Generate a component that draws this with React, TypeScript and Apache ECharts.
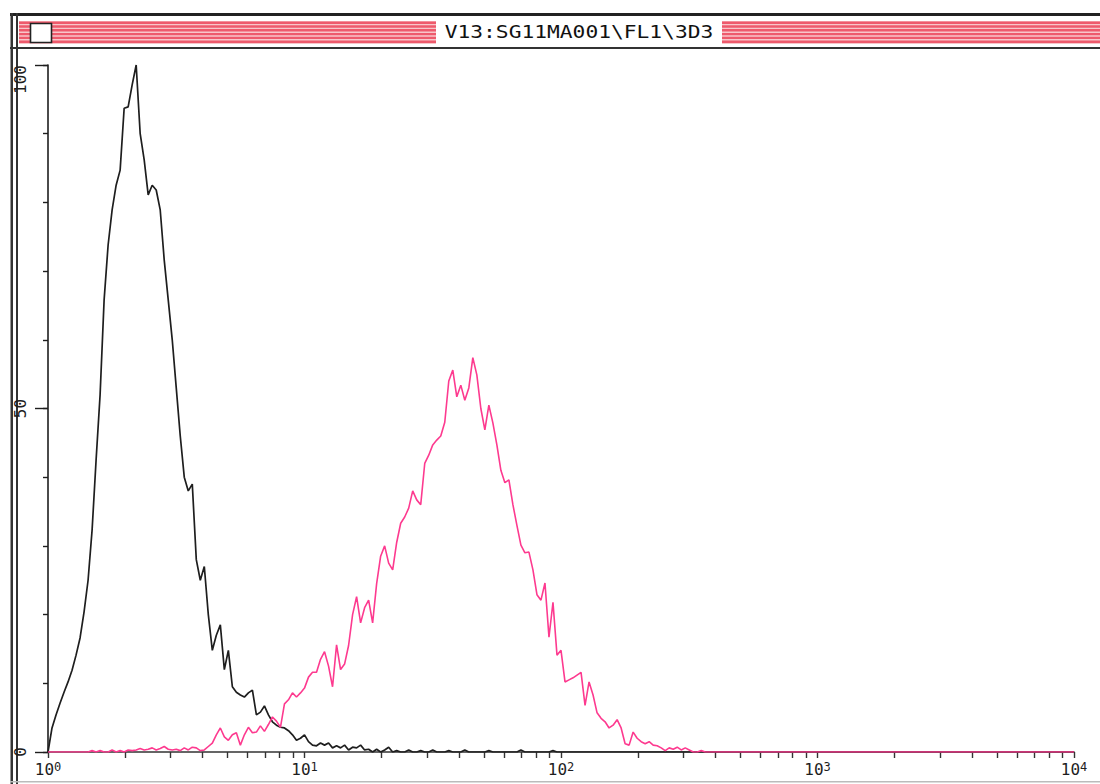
import React, { useEffect, useRef } from 'react';
import * as echarts from 'echarts';

const TITLE = 'V13:SG11MA001\\FL1\\3D3';
const CHANNELS = 256;
const CHANNELS_PER_DECADE = 64;
const DECADES = [0, 1, 2, 3, 4];
const DECADE_BASE = '10';
const MINOR_MULTIPLIERS = [2, 3, 4, 5, 6, 7, 8, 9];
const Y_MIN = 0;
const Y_MAX = 100;
const Y_MINOR_STEP = 10;
const Y_MAJOR_STEP = 50;

// Control (isotype) histogram, counts per channel starting at channel 0
const CONTROL_COUNTS = [
  0, 3.5, 5.4, 7.1, 8.7, 10.2, 11.9, 14.1, 16.6, 20.4,
  25, 32.3, 42.5, 52, 65.8, 73.8, 78.9, 82.5, 84.7, 93.7,
  93.9, 97.1, 100, 90, 86.2, 81.1, 82.5, 81.8, 78.9, 71.6,
  65.8, 60, 53, 46, 40, 38, 39, 28, 25, 27,
  20, 14.8, 17, 18.5, 12, 14.8, 9.5, 8.7, 8.3, 8,
  8.6, 9, 5.4, 5.8, 6.7, 5.4, 4.4, 3.9, 3.6, 3.5,
  3.1, 2.5, 1.7, 2, 2.5, 1.5, 1, 0.9, 1.3, 1,
  1.3, 0.6, 0.9, 0.6, 1, 0.3, 0.7, 0.6, 1, 0.3,
  0.4, 0, 0.4, 0, 0.3, 0.7, 0, 0.2, 0, 0,
  0.3, 0, 0, 0.2, 0, 0, 0.3, 0, 0, 0,
  0.2, 0, 0, 0, 0.3, 0, 0, 0, 0, 0,
  0.2, 0, 0, 0, 0, 0, 0, 0, 0.3, 0,
  0, 0, 0, 0, 0, 0, 0.2, 0,
];

// Stained sample histogram, counts per channel starting at channel 0
const STAINED_COUNTS = [
  0, 0, 0, 0, 0, 0, 0, 0, 0, 0,
  0, 0.2, 0, 0.2, 0, 0, 0.3, 0, 0.2, 0,
  0.3, 0.2, 0.3, 0.5, 0.3, 0.4, 0.6, 0.3, 0.5, 0.8,
  0.4, 0.3, 0.4, 0.2, 0.6, 0.3, 0.7, 0.6, 0.2, 0.3,
  0.8, 1.3, 2.5, 3.5, 2.2, 1.7, 2.5, 2.8, 1.0, 2.5,
  3.6, 2.8, 2.9, 3.8, 3.0, 4.0, 5.1, 4.5, 3.6, 7.0,
  7.6, 8.6, 8.0, 8.6, 9.3, 10.9, 11.6, 11.6, 13.5, 14.6,
  12.5, 9.5, 15.6, 12.0, 12.8, 15.5, 20, 22.6, 18.8, 21,
  22.1, 18.8, 24.5, 28.5, 30, 27.5, 26.5, 30.5, 33.3, 34.2,
  35.5, 38, 36.7, 36, 42, 43.2, 44.7, 45.4, 46, 48,
  54, 55.6, 51.7, 53.4, 51.2, 53, 57.4, 54.9, 50, 46.9,
  50.5, 47.9, 44.7, 41, 39.2, 39.6, 36, 33, 30.1, 29,
  29.1, 26.5, 22.9, 22.1, 24.6, 16.7, 21.8, 14.1, 14.8, 10.2,
  10.5, 10.8, 11.2, 11.6, 6.8, 10.2, 8.3, 5.7, 4.9, 4.4,
  3.5, 3.9, 4.7, 3.5, 1.2, 1.0, 2.9, 2.0, 1.5, 1.2,
  1.5, 1.0, 0.9, 0.6, 0.2, 0.6, 0.4, 0.7, 0.3, 0.6,
  0.3, 0, 0, 0.2,
];

const FONT = "'DejaVu Sans Mono', monospace";
const INK = '#1e1e1e';
const PINK = '#fd3a8f';

function toSeries(counts: number[]) {
  const out: [number, number][] = [];
  for (let c = 0; c <= CHANNELS; c++) out.push([c, counts[c] ?? 0]);
  return out;
}

const tickValues: number[] = [];
DECADES.forEach((d) => {
  tickValues.push(d * CHANNELS_PER_DECADE);
  if (d < DECADES[DECADES.length - 1]) {
    MINOR_MULTIPLIERS.forEach((m) => tickValues.push((d + Math.log10(m)) * CHANNELS_PER_DECADE));
  }
});
const labelValues = DECADES.map((d) => d * CHANNELS_PER_DECADE);

function stripes(x: number, w: number) {
  const els: any[] = [{ type: 'rect', shape: { x, y: 21, width: w, height: 23 }, style: { fill: '#f8c6ca' }, silent: true }];
  [21.5, 25.3, 29.1, 32.9, 36.7, 40.5].forEach((y) => {
    els.push({ type: 'rect', shape: { x, y, width: w, height: 2.4 }, style: { fill: '#ee5a6c' }, silent: true });
  });
  return els;
}

export default function App() {
  const ref = useRef<HTMLDivElement>(null);
  useEffect(() => {
    document.body.style.margin = '0';
    if (!ref.current) return;
    const chart = echarts.init(ref.current, undefined, { renderer: 'svg' });
    chart.setOption({
      animation: false,
      backgroundColor: '#ffffff',
      grid: { left: 48, top: 65, width: 1026, height: 687, containLabel: false },
      xAxis: [
        {
          type: 'value',
          min: 0,
          max: CHANNELS,
          axisLine: { show: true, lineStyle: { color: '#333', width: 1.6 } },
          axisTick: { show: true, customValues: tickValues, length: 6, lineStyle: { color: '#333', width: 1.4 } },
          axisLabel: {
            show: true,
            customValues: labelValues,
            formatter: (v: number) => `${DECADE_BASE}{sup|${Math.round(v / CHANNELS_PER_DECADE)}}`,
            fontFamily: FONT,
            fontSize: 16,
            color: INK,
            margin: 9,
            rich: {
              sup: { fontFamily: FONT, fontSize: 12, color: INK, verticalAlign: 'top', padding: [0, 0, 5, 0] },
            },
          },
          splitLine: { show: false },
        },
      ],
      yAxis: [
        {
          type: 'value',
          min: Y_MIN,
          max: Y_MAX,
          interval: Y_MINOR_STEP,
          position: 'left',
          axisLine: { show: true, lineStyle: { color: INK, width: 1.6 } },
          axisTick: { show: true, length: 5, lineStyle: { color: INK, width: 1.4 } },
          axisLabel: { show: false },
          splitLine: { show: false },
        },
        {
          type: 'value',
          min: Y_MIN,
          max: Y_MAX,
          interval: Y_MAJOR_STEP,
          position: 'left',
          axisLine: { show: false },
          axisTick: { show: true, length: 13, lineStyle: { color: INK, width: 1.4 } },
          axisLabel: {
            show: true,
            rotate: 90,
            margin: 20,
            fontFamily: FONT,
            fontSize: 16,
            color: INK,
            alignMaxLabel: 'right',
          },
          splitLine: { show: false },
        },
      ],
      series: [
        {
          name: 'Control',
          type: 'line',
          data: toSeries(CONTROL_COUNTS),
          showSymbol: false,
          lineStyle: { color: INK, width: 1.7 },
          z: 2,
        },
        {
          name: 'Stained',
          type: 'line',
          data: toSeries(STAINED_COUNTS),
          showSymbol: false,
          lineStyle: { color: PINK, width: 1.6 },
          z: 3,
        },
      ],
      graphic: [
        ...stripes(19, 417),
        ...stripes(722, 378),
        { type: 'rect', shape: { x: 30.5, y: 23.5, width: 21, height: 19 }, style: { fill: '#fff', stroke: '#222', lineWidth: 1.6 }, silent: true },
        { type: 'rect', shape: { x: 10, y: 13, width: 1090, height: 3 }, style: { fill: '#222' }, silent: true },
        { type: 'rect', shape: { x: 10, y: 47, width: 1090, height: 2 }, style: { fill: '#333' }, silent: true },
        { type: 'rect', shape: { x: 10.5, y: 13, width: 2.5, height: 771 }, style: { fill: '#333' }, silent: true },
        { type: 'rect', shape: { x: 16, y: 13, width: 2, height: 771 }, style: { fill: '#333' }, silent: true },
        { type: 'rect', shape: { x: 10, y: 781, width: 1090, height: 1.5 }, style: { fill: '#bbb' }, silent: true },
        {
          type: 'text',
          x: 579,
          y: 32,
          scaleX: 1.25,
          style: {
            text: TITLE,
            fontFamily: FONT,
            fontSize: 17,
            fill: '#111',
            textAlign: 'center',
            textVerticalAlign: 'middle',
          },
          silent: true,
        },
      ],
    });
    return () => chart.dispose();
  }, []);
  return <div ref={ref} style={{ width: 1100, height: 784 }} />;
}
